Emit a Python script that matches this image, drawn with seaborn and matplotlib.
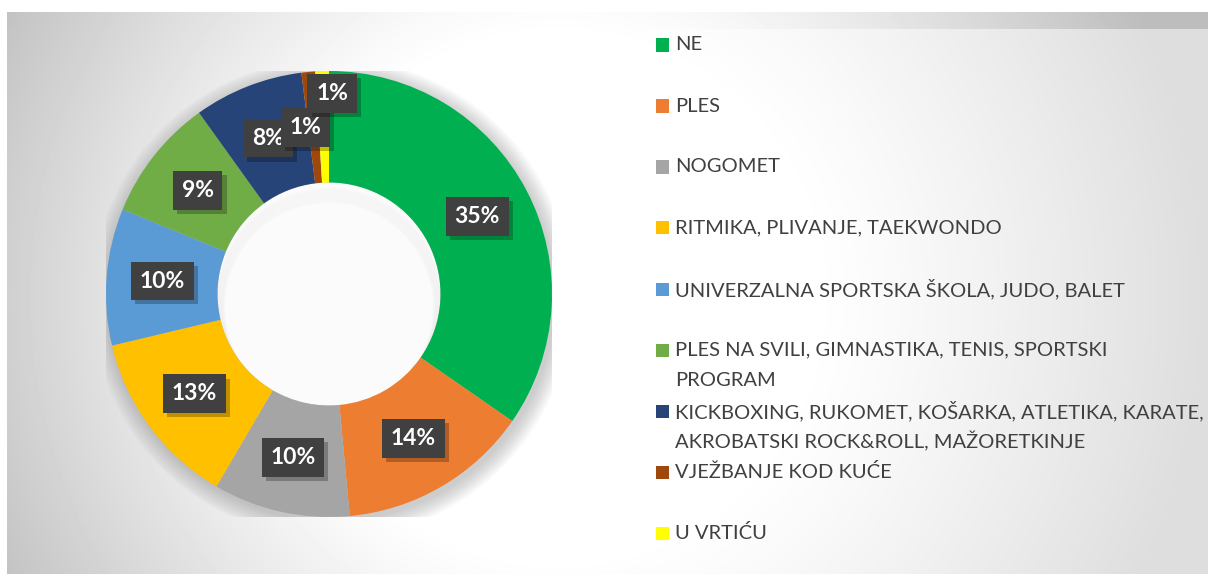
import numpy as np
import matplotlib
matplotlib.use("Agg")
import matplotlib.pyplot as plt
import matplotlib.patheffects as pe
from matplotlib.patches import Rectangle, Circle
import seaborn as sns

# data (counts, total 101)
categories = [
    "NE",
    "PLES",
    "NOGOMET",
    "RITMIKA, PLIVANJE, TAEKWONDO",
    "UNIVERZALNA SPORTSKA ŠKOLA, JUDO, BALET",
    "PLES NA SVILI, GIMNASTIKA, TENIS, SPORTSKI\nPROGRAM",
    "KICKBOXING, RUKOMET, KOŠARKA, ATLETIKA, KARATE,\nAKROBATSKI ROCK&ROLL, MAŽORETKINJE",
    "VJEŽBANJE KOD KUĆE",
    "U VRTIĆU",
]
counts = [35, 14, 10, 13, 10, 9, 8, 1, 1]
colors = ["#00B050", "#ED7D31", "#A5A5A5", "#FFC000", "#5B9BD5",
          "#70AD47", "#264478", "#9E480E", "#FFFF00"]

sns.set_theme(style="white")
plt.rcParams["font.family"] = ["Lato", "DejaVu Sans"]

W, H = 1208, 574
fig = plt.figure(figsize=(W / 100, H / 100), dpi=100)
fig.patch.set_facecolor("white")

# radial gradient background of the chart area
bg = fig.add_axes([7 / W, 0, 1 - 7 / W, (H - 12) / H])
yy, xx = np.mgrid[0:H - 12, 0:W - 7]
d = np.hypot(xx - 550, yy - 285)
t = np.clip((d - 260) / 390, 0, 1) ** 1.15
grad = 1 - 0.26 * t
bg.imshow(grad, cmap="gray", vmin=0, vmax=1, aspect="auto", interpolation="bilinear")
bg.set_axis_off()

# legend panel (semi-transparent white)
fig.patches.append(Rectangle((645 / W, 0), 1 - 645 / W, (H - 29) / H,
                             transform=fig.transFigure, facecolor="white",
                             alpha=0.5, edgecolor="none", zorder=1))

# donut
cx, cy, r = 329, H - 294, 223
ax = fig.add_axes([(cx - r) / W, (cy - r) / H, 2 * r / W, 2 * r / H])
ax.set_axis_off()

# soft shadow behind the ring
for k in range(14):
    ax.add_patch(Circle((0.012, -0.02), 1.0 + k * 0.006, facecolor="#808080",
                        alpha=0.03, edgecolor="none", zorder=0))
ax.add_patch(Circle((0, 0), 0.5, facecolor="#fbfbfb", edgecolor="none", zorder=0.5))

wedges, _ = ax.pie(counts, colors=colors, startangle=90, counterclock=False,
                   radius=1.0, wedgeprops=dict(width=0.5, edgecolor="none"),
                   normalize=True)
for w in wedges:
    w.set_zorder(2)
ax.set_xlim(-1, 1)
ax.set_ylim(-1, 1)
ax.set_axis_off()

# faint inner shading near the top of the hole
for k in range(8):
    ax.add_patch(Circle((0, -0.03 - k * 0.004), 0.5 - k * 0.004, facecolor="none",
                        edgecolor="#b0b0b0", lw=2, alpha=0.035, zorder=1))

nudges = {7: (-0.035, 0.0), 8: (0.037, 0.15)}
total = sum(counts)
for i, w in enumerate(wedges):
    mid = np.deg2rad((w.theta1 + w.theta2) / 2)
    x, y = 0.75 * np.cos(mid), 0.75 * np.sin(mid)
    dx, dy = nudges.get(i, (0, 0))
    x, y = x + dx, y + dy
    label = f"{round(counts[i] / total * 100):d}%"
    txt = ax.text(x, y, label, ha="center", va="center", fontsize=16.5,
                  fontweight="bold", color="white", zorder=5,
                  bbox=dict(boxstyle="square,pad=0.38", facecolor="#404040",
                            edgecolor="none"))
    txt.get_bbox_patch().set_path_effects(
        [pe.SimplePatchShadow(offset=(3, -3), shadow_rgbFace="black", alpha=0.25),
         pe.Normal()])

# legend drawn entry by entry, two text rows per entry
row0, row_h = 45, 30.5
for i, (cat, col) in enumerate(zip(categories, colors)):
    lines = cat.split("\n")
    y0 = row0 + 2 * i * row_h
    fig.patches.append(Rectangle((656 / W, 1 - (y0 + 6.5) / H), 13 / W, 13 / H,
                                 transform=fig.transFigure, facecolor=col,
                                 edgecolor="none", zorder=3))
    for j, line in enumerate(lines):
        fig.text(675 / W, 1 - (y0 + j * row_h) / H, line, ha="left", va="center",
                 fontsize=14.5, color="#404040", zorder=4)

fig.savefig("out.png", dpi=100)
